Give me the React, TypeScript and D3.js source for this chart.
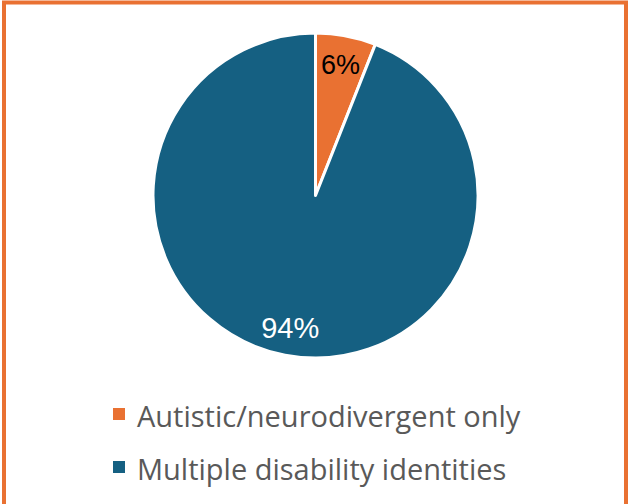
import React from "react";
import * as d3 from "d3";

const categories = ["Autistic/neurodivergent only", "Multiple disability identities"];
const values = [6, 94];
const labels = ["6%", "94%"];
const colors = ["#E97132", "#156082"];

export default function App() {
  const W = 628, H = 504;
  const cx = 315.5, cy = 195.5, r = 162.5;
  const pie = d3.pie<number>().sort(null).value((d) => d)(values);
  const arc = d3.arc<d3.PieArcDatum<number>>().innerRadius(0).outerRadius(r);
  const labelR = [0.82, 0.83];
  const labelPos = pie.map((p, i) =>
    d3.arc<d3.PieArcDatum<number>>().innerRadius(r * labelR[i]).outerRadius(r * labelR[i]).centroid(p)
  );
  const labelSize = [27, 29];
  const font = "'Liberation Sans', Arial, sans-serif";
  const legendFont = "'Open Sans', sans-serif";
  return (
    <svg width={W} height={H} style={{ position: "absolute", left: 0, top: 0 }}>
      <rect x={0} y={0} width={W} height={H} fill="#fff" />
      <rect x={4} y={2.5} width={622} height={H + 10} fill="none" stroke="#E97132" strokeWidth={4} />
      <g transform={`translate(${cx},${cy})`}>
        {pie.map((p, i) => (
          <path key={i} d={arc(p) || ""} fill={colors[i]} stroke="#fff" strokeWidth={3} strokeLinejoin="round" />
        ))}
        {pie.map((p, i) => (
          <text key={"l" + i} x={labelPos[i][0]} y={labelPos[i][1]} textAnchor="middle" dominantBaseline="central"
            fontFamily={font} fontSize={labelSize[i]} fill={i === 0 ? "#000" : "#fff"}>
            {labels[i]}
          </text>
        ))}
      </g>
      {categories.map((c, i) => (
        <g key={c} transform={`translate(113,${408 + i * 53})`}>
          <rect x={0} y={0} width={12} height={12} fill={colors[i]} />
          <text x={24} y={18.5} fontFamily={legendFont} fontSize={29} fill="#595959">{c}</text>
        </g>
      ))}
    </svg>
  );
}
